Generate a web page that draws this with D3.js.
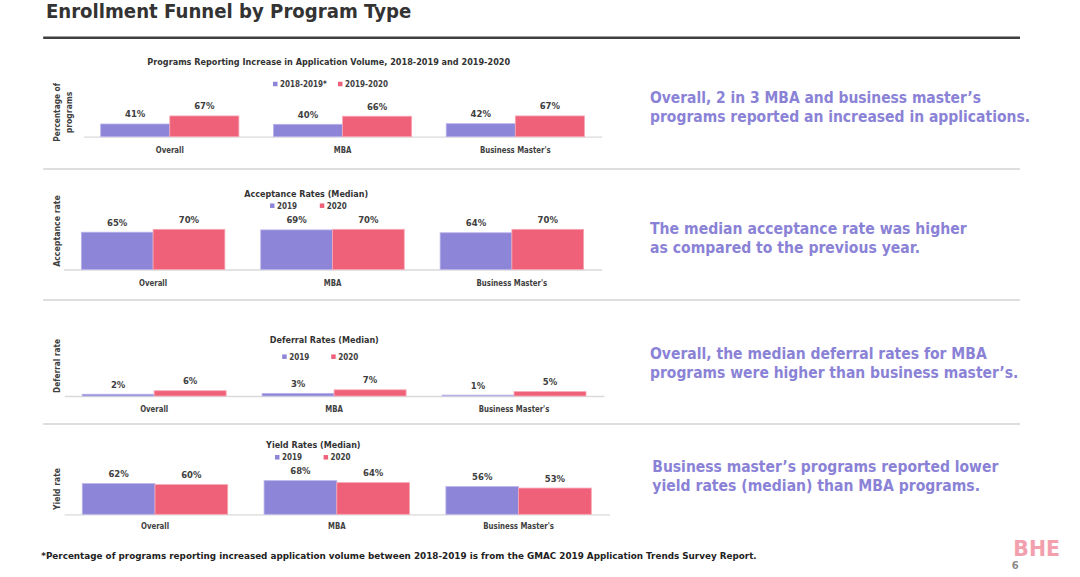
<!DOCTYPE html>
<html><head><meta charset="utf-8">
<script src="https://cdn.jsdelivr.net/npm/d3@7"></script>
<style>
html,body{margin:0;padding:0;background:#fff;}
svg{display:block;}
text{font-family:"DejaVu Sans",Verdana,sans-serif;font-weight:bold;}
</style></head><body>
<svg id="c" width="1080" height="577"></svg>
<script>
// ---------- DATA ----------
const pageTitle = "Enrollment Funnel by Program Type";
const categories = ["Overall", "MBA", "Business Master's"];
const appVolSeries = ["2018-2019*", "2019-2020"];
const yearSeries = ["2019", "2020"];
const appVol1819 = [41, 40, 42];
const appVol1920 = [67, 66, 67];
const accept2019 = [65, 69, 64];
const accept2020 = [70, 70, 70];
const defer2019 = [2, 3, 1];
const defer2020 = [6, 7, 5];
const yield2019 = [62, 68, 56];
const yield2020 = [60, 64, 53];
const chartTitles = [
  "Programs Reporting Increase in Application Volume, 2018-2019 and 2019-2020",
  "Acceptance Rates (Median)",
  "Deferral Rates (Median)",
  "Yield Rates (Median)"
];
const yTitles = [["Percentage of", "programs"], ["Acceptance rate"], ["Deferral rate"], ["Yield rate"]];
const notes = [
  ["Overall, 2 in 3 MBA and business master\u2019s", "programs reported an increased in applications."],
  ["The median acceptance rate was higher", "as compared to the previous year."],
  ["Overall, the median deferral rates for MBA", "programs were higher than business master\u2019s."],
  ["Business master\u2019s programs reported lower", "yield rates (median) than MBA programs."]
];
const footnote = "*Percentage of programs reporting increased application volume between 2018-2019 is from the GMAC 2019 Application Trends Survey Report.";
const logoText = "BHE";
const pageNumber = "6";

// ---------- STYLE / LAYOUT ----------
const colors = ["#8D85D7", "#EF6179"];
const strokes = ["#B9B3EA", "#F7A7B5"];
const noteColor = "#8A82D6";
const labelColor = "#404040";

const panels = [
  { series: appVolSeries, values: [appVol1819, appVol1920], x0: 83.4, x1: 601.7, base: 136.7, H: 31,
    titleX: 328.7, titleY: 65.3, titleW: 362.8, legY: 84, legX: [273, 338],
    ytX: [60.4, 71.9], ytY: 112.4, ytW: [58.7, 41.7], catDy: 16 },
  { series: yearSeries, values: [accept2019, accept2020], x0: 63.4, x1: 601.6, base: 269.5, H: 57.4,
    titleX: 306.2, titleY: 196.5, titleW: 124, legY: 205.7, legX: [270, 319.8],
    ytX: [59.6], ytY: 231, ytW: [71.7], catDy: 16 },
  { series: yearSeries, values: [defer2019, defer2020], x0: 64.2, x1: 604, base: 396, H: 88,
    titleX: 324.3, titleY: 342.5, titleW: 109, legY: 356.7, legX: [282.2, 331.2],
    ytX: [59.6], ytY: 366, ytW: [54], catDy: 16 },
  { series: yearSeries, values: [yield2019, yield2020], x0: 64.1, x1: 609.5, base: 514.3, H: 49.5,
    titleX: 313.3, titleY: 447.5, titleW: 94.5, legY: 457.3, legX: [275, 323.6],
    ytX: [59.6], ytY: 489, ytW: [42], catDy: 15 }
];
const noteLayout = [
  { x: 650, y: 103.3, w: [331, 380] },
  { x: 650, y: 234.3, w: [316.7, 270] },
  { x: 650, y: 359.3, w: [336.7, 368.3] },
  { x: 652.3, y: 472.3, w: [346, 327.7] }
];

const svg = d3.select("#c");

function fit(sel, w) { return sel.attr("textLength", w).attr("lengthAdjust", "spacingAndGlyphs"); }
function squeeze(sel, r) {
  sel.each(function () {
    const w = this.getComputedTextLength();
    this.setAttribute("textLength", (w * r).toFixed(2));
    this.setAttribute("lengthAdjust", "spacingAndGlyphs");
  });
  return sel;
}

// ---------- HEADER ----------
fit(svg.append("text").attr("x", 45.9).attr("y", 18.3).attr("font-size", 19.6)
  .attr("fill", "#333").text(pageTitle), 365.5);
svg.append("line").attr("x1", 43.2).attr("x2", 1020).attr("y1", 37.7).attr("y2", 37.7)
  .attr("stroke", "#3f3f3f").attr("stroke-width", 2.5);

// separators
[169, 300, 424].forEach(yy => {
  svg.append("line").attr("x1", 43.2).attr("x2", 1020).attr("y1", yy).attr("y2", yy)
    .attr("stroke", "#d3d3d3").attr("stroke-width", 1.5);
});

// ---------- CHARTS ----------
panels.forEach((p, pi) => {
  const g = svg.append("g");
  const x0 = d3.scaleBand().domain(categories).range([p.x0, p.x1]).paddingInner(0.2).paddingOuter(0.1);
  const x1 = d3.scaleBand().domain(p.series).range([0, x0.bandwidth()]);
  const y = d3.scaleLinear().domain([0, 100]).range([p.base, p.base - p.H]);

  // axis (baseline + category labels)
  const ag = g.append("g").attr("transform", `translate(0,${p.base})`)
    .call(d3.axisBottom(x0).tickSize(0).tickSizeOuter(0).tickPadding(0));
  ag.select(".domain").attr("stroke", "#dadada").attr("stroke-width", 1.3);
  ag.selectAll(".tick text").attr("y", p.catDy).attr("dy", 0)
    .attr("font-size", 8).attr("font-family", '"DejaVu Sans",Verdana,sans-serif')
    .attr("font-weight", "bold").attr("fill", labelColor);
  squeeze(ag.selectAll(".tick text"), 0.87);

  const rows = categories.map((c, i) => ({ cat: c, vals: p.series.map((s, j) => ({ s, j, v: p.values[j][i] })) }));
  const grp = g.selectAll("g.grp").data(rows).join("g").attr("class", "grp")
    .attr("transform", d => `translate(${x0(d.cat)},0)`);
  grp.selectAll("rect").data(d => d.vals).join("rect")
    .attr("x", d => x1(d.s)).attr("width", x1.bandwidth())
    .attr("y", d => y(d.v)).attr("height", d => p.base - y(d.v))
    .attr("fill", d => colors[d.j]).attr("stroke", d => strokes[d.j]).attr("stroke-width", 0.8);
  grp.selectAll("text").data(d => d.vals).join("text")
    .attr("x", d => x1(d.s) + x1.bandwidth() / 2).attr("y", d => y(d.v) - 6.5)
    .attr("text-anchor", "middle").attr("font-size", 8.5).attr("fill", labelColor)
    .text(d => d.v + "%");

  // chart title
  fit(g.append("text").attr("x", p.titleX).attr("y", p.titleY).attr("text-anchor", "middle")
    .attr("font-size", 8.2).attr("fill", "#333").text(chartTitles[pi]), p.titleW);

  // legend
  p.series.forEach((s, j) => {
    g.append("rect").attr("x", p.legX[j]).attr("y", p.legY - 2.25).attr("width", 4.5).attr("height", 4.5)
      .attr("fill", colors[j]);
    squeeze(g.append("text").attr("x", p.legX[j] + 7).attr("y", p.legY + 3).attr("font-size", 8)
      .attr("fill", labelColor).text(s), 0.9);
  });

  // y title
  yTitles[pi].forEach((t, k) => {
    fit(g.append("text").attr("transform", `translate(${p.ytX[k]},${p.ytY}) rotate(-90)`)
      .attr("text-anchor", "middle").attr("font-size", 8.5).attr("fill", labelColor).text(t), p.ytW[k]);
  });
});

// ---------- NOTES ----------
notes.forEach((lines, i) => {
  const L = noteLayout[i];
  lines.forEach((t, k) => {
    fit(svg.append("text").attr("x", L.x).attr("y", L.y + k * 19).attr("font-size", 15)
      .attr("fill", noteColor).text(t), L.w[k]);
  });
});

// ---------- FOOTER ----------
fit(svg.append("text").attr("x", 41.3).attr("y", 559).attr("font-size", 9.5).attr("fill", "#222")
  .text(footnote), 715.4);
fit(svg.append("text").attr("x", 1013.3).attr("y", 555.5).attr("font-size", 20.5)
  .attr("font-family", '"Liberation Sans",Arial,sans-serif').attr("fill", "#F3A0AE").text(logoText), 46.7);
svg.append("text").attr("x", 1011.7).attr("y", 569).attr("font-size", 10)
  .attr("font-family", '"Liberation Sans",Arial,sans-serif').attr("fill", "#8a8a8a").text(pageNumber);
</script></body></html>
